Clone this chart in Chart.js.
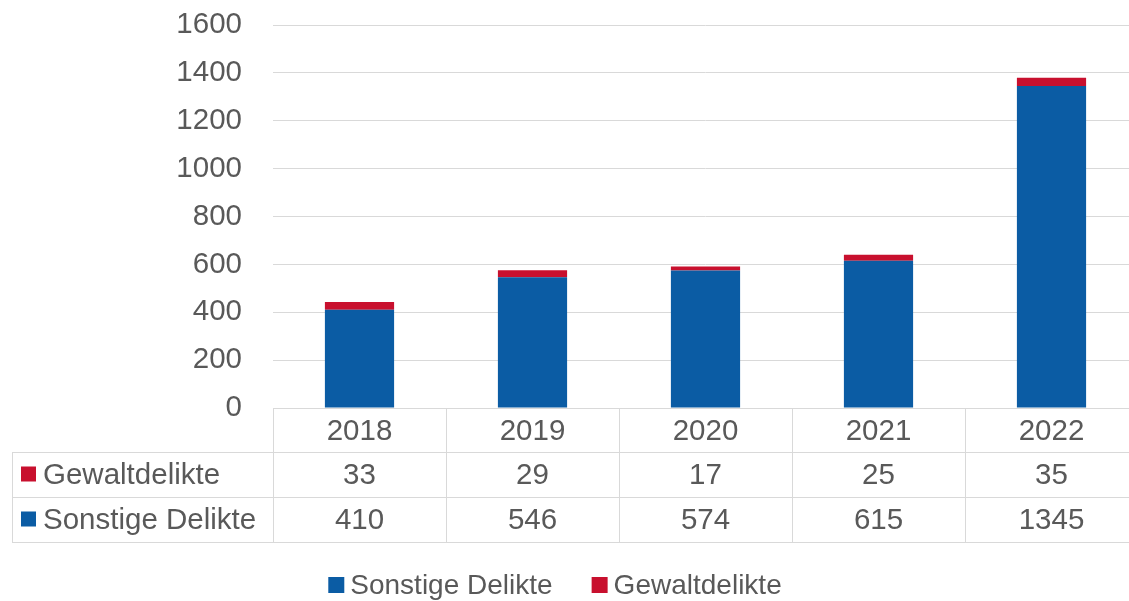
<!DOCTYPE html>
<html>
<head>
<meta charset="utf-8">
<title>Delikte 2018-2022</title>
<script src="https://cdn.jsdelivr.net/npm/chart.js@4.4.1/dist/chart.umd.min.js"></script>
<style>
  html, body { margin: 0; padding: 0; background: #ffffff; overflow: hidden; }
  canvas { display: block; }
</style>
</head>
<body>
<canvas id="delikteChart" width="1140" height="601"></canvas>
<script>
const years = ["2018", "2019", "2020", "2021", "2022"];
const sonstigeDelikte = [410, 546, 574, 615, 1345];
const gewaltdelikte = [33, 29, 17, 25, 35];
const yMax = 1600;
const yStep = 200;

const BLUE = "#0B5CA4";
const RED = "#C8102E";
const TEXT = "#595959";
const GRID = "#D9D9D9";
const FONT = "'Liberation Sans', Arial, sans-serif";
const FONT_SIZE = 29.5;
const LEGEND_FONT_SIZE = 28;

// rows of the data table under the axis (Excel shows them in reverse order)
const tableRows = [
  { label: "Gewaltdelikte", values: gewaltdelikte, color: RED },
  { label: "Sonstige Delikte", values: sonstigeDelikte, color: BLUE },
];
const legendItems = [
  { label: "Sonstige Delikte", color: BLUE },
  { label: "Gewaltdelikte", color: RED },
];

function hLine(ctx, x1, x2, y) {
  ctx.beginPath();
  ctx.moveTo(x1, Math.round(y) + 0.5);
  ctx.lineTo(x2, Math.round(y) + 0.5);
  ctx.stroke();
}

function vLine(ctx, x, y1, y2) {
  ctx.beginPath();
  ctx.moveTo(Math.round(x) + 0.5, y1);
  ctx.lineTo(Math.round(x) + 0.5, y2);
  ctx.stroke();
}

const dataTablePlugin = {
  id: "dataTable",
  afterDraw(chart) {
    const ctx = chart.ctx;
    const area = chart.chartArea;
    const xScale = chart.scales.x;
    const top = area.bottom;
    const headerH = 44;
    const rowH = 45;
    const tableLeft = 12;
    const right = chart.width;

    ctx.save();
    ctx.strokeStyle = GRID;
    ctx.lineWidth = 1;

    // horizontal borders
    hLine(ctx, area.left, right, top);
    for (let r = 0; r <= tableRows.length; r++) {
      hLine(ctx, tableLeft, right, top + headerH + r * rowH);
    }
    const bottom = top + headerH + tableRows.length * rowH;

    // vertical borders between categories
    vLine(ctx, tableLeft, top + headerH, bottom);
    vLine(ctx, area.left, top, bottom);
    for (let i = 1; i < years.length; i++) {
      const bx = (xScale.getPixelForValue(i - 1) + xScale.getPixelForValue(i)) / 2;
      vLine(ctx, bx, top, bottom);
    }

    // row labels and values
    ctx.font = FONT_SIZE + "px " + FONT;
    ctx.textBaseline = "middle";
    tableRows.forEach((row, r) => {
      const cy = top + headerH + r * rowH + rowH / 2;
      ctx.fillStyle = row.color;
      ctx.fillRect(21, cy - 8, 15, 15);
      ctx.fillStyle = TEXT;
      ctx.textAlign = "left";
      ctx.fillText(row.label, 43, cy + 1);
      ctx.textAlign = "center";
      row.values.forEach((v, i) => {
        ctx.fillText(String(v), xScale.getPixelForValue(i), cy + 1);
      });
    });

    // legend below the table
    ctx.font = LEGEND_FONT_SIZE + "px " + FONT;
    const boxSize = 16;
    const boxGap = 6;
    const itemGap = 39;
    const widths = legendItems.map((it) => boxSize + boxGap + ctx.measureText(it.label).width);
    const total = widths.reduce((a, b) => a + b, 0) + itemGap * (legendItems.length - 1);
    let lx = 555 - total / 2;
    const ly = 585;
    legendItems.forEach((it, i) => {
      ctx.fillStyle = it.color;
      ctx.fillRect(lx, ly - 8, boxSize, boxSize);
      ctx.fillStyle = TEXT;
      ctx.textAlign = "left";
      ctx.fillText(it.label, lx + boxSize + boxGap, ly + 1);
      lx += widths[i] + itemGap;
    });

    ctx.restore();
  },
};

function main() {
  const canvas = document.getElementById("delikteChart");
  new Chart(canvas.getContext("2d"), {
    type: "bar",
    data: {
      labels: years,
      datasets: [
        {
          label: "Sonstige Delikte",
          data: sonstigeDelikte,
          backgroundColor: BLUE,
          barPercentage: 0.4,
          categoryPercentage: 1.0,
        },
        {
          label: "Gewaltdelikte",
          data: gewaltdelikte,
          backgroundColor: RED,
          barPercentage: 0.4,
          categoryPercentage: 1.0,
        },
      ],
    },
    options: {
      responsive: false,
      animation: false,
      layout: { padding: { left: 0, top: 25, right: 2, bottom: 0 } },
      scales: {
        x: {
          stacked: true,
          grid: { display: false, drawTicks: false },
          border: { display: false },
          ticks: {
            color: TEXT,
            font: { family: FONT, size: FONT_SIZE },
            padding: 6,
            maxRotation: 0,
          },
          afterFit(scale) {
            scale.height = 193;
          },
        },
        y: {
          stacked: true,
          min: 0,
          max: yMax,
          ticks: {
            stepSize: yStep,
            color: TEXT,
            font: { family: FONT, size: FONT_SIZE },
            padding: 31,
            callback: (value) => String(value),
          },
          grid: { color: GRID, lineWidth: 1, drawTicks: false },
          border: { display: false },
          afterFit(scale) {
            scale.width = 273;
            // the tick padding should only push labels left, not the plot down
            scale.paddingTop = 0;
            scale.paddingBottom = 0;
          },
        },
      },
      plugins: {
        legend: { display: false },
        tooltip: { enabled: false },
      },
    },
    plugins: [dataTablePlugin],
  });
}

document.addEventListener("DOMContentLoaded", main);
</script>
</body>
</html>
